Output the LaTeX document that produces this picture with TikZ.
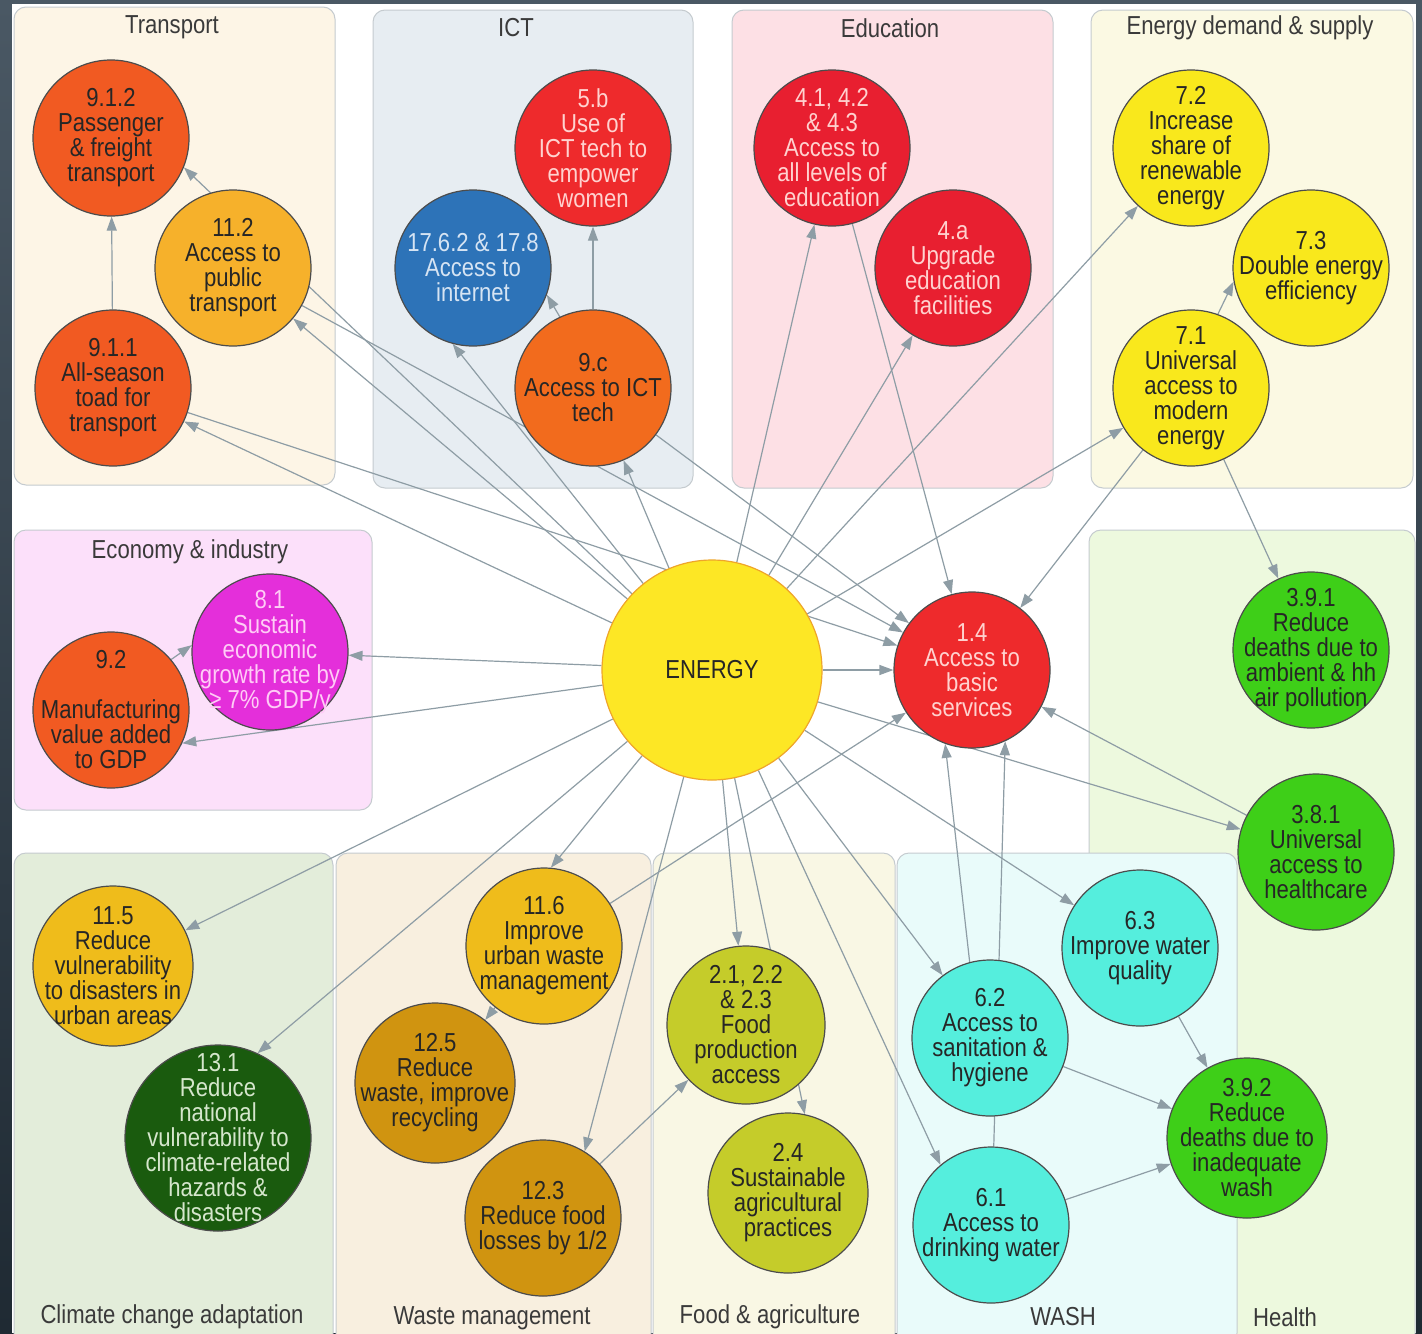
\documentclass[tikz,border=0pt]{standalone}
\usepackage{fontspec}
\setmainfont{Liberation Sans}[FakeStretch=0.85]
\usetikzlibrary{arrows.meta}
\pgfdeclarelayer{bg}
\pgfdeclarelayer{links}
\pgfsetlayers{bg,links,main}

\definecolor{frametop}{HTML}{4A5864}
\definecolor{framebot}{HTML}{1F2A33}
\definecolor{panelline}{HTML}{C5CBCF}
\definecolor{titletext}{HTML}{3A3A3A}
\definecolor{linkgray}{HTML}{8E9DA5}
\definecolor{darktext}{HTML}{262626}
% panel fills
\definecolor{pTransport}{HTML}{FDF5E6}
\definecolor{pICT}{HTML}{E7EDF2}
\definecolor{pEducation}{HTML}{FDE0E5}
\definecolor{pEnergy}{HTML}{FBF9E3}
\definecolor{pEconomy}{HTML}{FCE0FA}
\definecolor{pHealth}{HTML}{EDF9DE}
\definecolor{pClimate}{HTML}{E3EDDA}
\definecolor{pWaste}{HTML}{F8EFDF}
\definecolor{pFood}{HTML}{F9F7E4}
\definecolor{pWash}{HTML}{E9FBFA}
% goal fills
\definecolor{cOrangeRed}{HTML}{F15A22}
\definecolor{cOrange}{HTML}{F26B1D}
\definecolor{cAmber}{HTML}{F6B12B}
\definecolor{cRed}{HTML}{EE2A2C}
\definecolor{cCrimson}{HTML}{E81F30}
\definecolor{cBlue}{HTML}{2D73B8}
\definecolor{cYellow}{HTML}{F9E81C}
\definecolor{cMagenta}{HTML}{E42FDA}
\definecolor{cGreen}{HTML}{3ECF18}
\definecolor{cGold}{HTML}{EFBC1B}
\definecolor{cOchre}{HTML}{D09410}
\definecolor{cOlive}{HTML}{C5CC2A}
\definecolor{cTurq}{HTML}{55EEDD}
\definecolor{cDarkGreen}{HTML}{1A5B0E}
\definecolor{cEnergy}{HTML}{FDE725}
\definecolor{cEnergyEdge}{HTML}{EFA52A}
% light texts
\definecolor{lightRed}{HTML}{FFD2CF}
\definecolor{lightBlue}{HTML}{D6E4F3}
\definecolor{lightPink}{HTML}{FFCCF6}
\definecolor{lightGreen}{HTML}{D5E6CC}

\begin{document}
\begin{tikzpicture}[
			x = 0.5pt, y = -0.5pt,
			every node/.style = {font = \fontsize{13}{12.5}\selectfont},
			panel/.style = {draw = panelline, line width = 0.5pt, rounded corners = 6pt},
			title/.style = {text = titletext},
			goal/.style = {circle, draw = black!70, line width = 0.6pt, inner sep = -25pt,
				minimum size = 78pt, align = center, text = darktext},
			link/.style = {draw = linkgray, line width = 0.6pt, -{Triangle[length=7pt,width=5pt]}}
			]

			\useasboundingbox (0,0) rectangle (1422,1333);

			% groups
			\begin{pgfonlayer}{bg}
				\shade[top color = frametop, bottom color = framebot] (0,0) rectangle (1422,1333);
				\fill[white] (12,4) rectangle (1416,1333);
				\filldraw[panel, fill = pTransport] (14,7) rectangle (335,485);
				\node[title] (tTransport) at (172,27) {Transport};
				\filldraw[panel, fill = pICT] (373,10) rectangle (693,488);
				\node[title] (tICT) at (516,28) {ICT};
				\filldraw[panel, fill = pEducation] (732,10) rectangle (1053,488);
				\node[title] (tEducation) at (890,28) {Education};
				\filldraw[panel, fill = pEnergy] (1091,10) rectangle (1413,488);
				\node[title] (tEnergy) at (1250,28) {Energy demand \& supply};
				\filldraw[panel, fill = pEconomy] (14,530) rectangle (372,810);
				\node[title] (tEconomy) at (190,552) {Economy \& industry};
				\filldraw[panel, fill = pHealth] (1089,530) rectangle (1415,1345);
				\node[title] (tHealth) at (1285,1317) {Health};
				\filldraw[panel, fill = pClimate] (14,853) rectangle (333,1345);
				\node[title] (tClimate) at (172,1317) {Climate change adaptation};
				\filldraw[panel, fill = pWaste] (336,853) rectangle (651,1345);
				\node[title] (tWaste) at (492,1318) {Waste management};
				\filldraw[panel, fill = pFood] (653,853) rectangle (895,1345);
				\node[title] (tFood) at (770,1317) {Food \& agriculture};
				\filldraw[panel, fill = pWash] (897,853) rectangle (1237,1345);
				\node[title] (tWash) at (1063,1317) {WASH};
			\end{pgfonlayer}

			% centre
			\node[goal, minimum size = 110pt, fill = cEnergy, draw = cEnergyEdge] (energy) at (712,670) {ENERGY};
			\node[goal, fill = cRed, text = lightRed] (g14) at (972,670) {1.4\\Access to\\basic\\services};

			% transport
			\node[goal, fill = cOrangeRed] (g912) at (111,138) {9.1.2\\Passenger\\\& freight\\transport};
			\node[goal, fill = cAmber] (g112) at (233,268) {11.2\\Access to\\public\\transport};
			\node[goal, fill = cOrangeRed] (g911) at (113,388) {9.1.1\\All-season\\toad for\\transport};

			% ICT
			\node[goal, fill = cRed, text = lightRed] (g5b) at (593,148) {5.b\\Use of\\ICT tech to\\empower\\women};
			\node[goal, fill = cBlue, text = lightBlue] (g1762) at (473,268) {17.6.2 \& 17.8\\Access to\\internet};
			\node[goal, fill = cOrange] (g9c) at (593,388) {9.c\\Access to ICT\\tech};

			% education
			\node[goal, fill = cCrimson, text = lightRed] (g41) at (832,148) {4.1, 4.2\\\& 4.3\\Access to\\all levels of\\education};
			\node[goal, fill = cCrimson, text = lightRed] (g4a) at (953,268) {4.a\\Upgrade\\education\\facilities};

			% energy demand & supply
			\node[goal, fill = cYellow] (g72) at (1191,148) {7.2\\Increase\\share of\\renewable\\energy};
			\node[goal, fill = cYellow] (g73) at (1311,268) {7.3\\Double energy\\efficiency};
			\node[goal, fill = cYellow] (g71) at (1191,388) {7.1\\Universal\\access to\\modern\\energy};

			% economy
			\node[goal, fill = cMagenta, text = lightPink] (g81) at (270,652) {8.1\\Sustain\\economic\\growth rate by\\≥ 7\% GDP/y};
			\node[goal, fill = cOrangeRed] (g92) at (111,710) {9.2\\[12.5pt]Manufacturing\\value added\\to GDP};

			% health
			\node[goal, fill = cGreen] (g391) at (1311,650) {3.9.1\\Reduce\\deaths due to\\ambient \& hh\\air pollution};
			\node[goal, fill = cGreen] (g381) at (1316,852) {3.8.1\\Universal\\access to\\healthcare};
			\node[goal, minimum size = 80pt, fill = cGreen] (g392) at (1247,1138) {3.9.2\\Reduce\\deaths due to\\inadequate\\wash};

			% climate
			\node[goal, minimum size = 80pt, fill = cGold] (g115) at (113,966) {11.5\\Reduce\\vulnerability\\to disasters in\\urban areas};
			\node[goal, minimum size = 93pt, fill = cDarkGreen, text = lightGreen] (g131) at (218,1138) {13.1\\Reduce\\national\\vulnerability to\\climate-related\\hazards \&\\disasters};

			% waste
			\node[goal, fill = cGold] (g116) at (544,946) {11.6\\Improve\\urban waste\\management};
			\node[goal, minimum size = 80pt, fill = cOchre] (g125) at (435,1083) {12.5\\Reduce\\waste, improve\\recycling};
			\node[goal, fill = cOchre] (g123) at (543,1218) {12.3\\Reduce food\\losses by 1/2};

			% food
			\node[goal, minimum size = 79pt, fill = cOlive] (g21) at (746,1025) {2.1, 2.2\\\& 2.3\\Food\\production\\access};
			\node[goal, minimum size = 80pt, fill = cOlive] (g24) at (788,1193) {2.4\\Sustainable\\agricultural\\practices};

			% WASH
			\node[goal, fill = cTurq] (g63) at (1140,948) {6.3\\Improve water\\quality};
			\node[goal, fill = cTurq] (g62) at (990,1038) {6.2\\Access to\\sanitation \&\\hygiene};
			\node[goal, fill = cTurq] (g61) at (991,1225) {6.1\\Access to\\drinking water};

			% links
			\begin{pgfonlayer}{links}
				\foreach \t in {g911,g112,g9c,g41,g4a,g72,g71,g81,g14,g381,g63,g62,g21,g115}{
					\draw[link] (energy) -- (\t);
				}
				\foreach \t/\a in {g912/338,g1762/255,g92/335,g131/65,g116/85,g123/58,g24/78,g61/130}{
					\draw[link] (energy) -- (\t.\a);
				}
				\foreach \s/\t in {g911/g912,g911/g14,g112/g14,g9c/g14,g9c/g5b,g41/g14,g71/g14,g71/g391,
					g381/g14,g116/g14,g116/g125,g123/g21,g63/g392,g62/g392,g61/g392}{
					\draw[link] (\s) -- (\t);
				}
				\draw[link] (g9c.115) -- (g1762.340);
				\draw[link] (g71.70) -- (g73.190);
				\draw[link] (g92.40) -- (g81.175);
				\draw[link] (g62.105) -- (g14.250);
				\draw[link] (g61.88) -- (g14.295);
			\end{pgfonlayer}

		\end{tikzpicture}
\end{document}
